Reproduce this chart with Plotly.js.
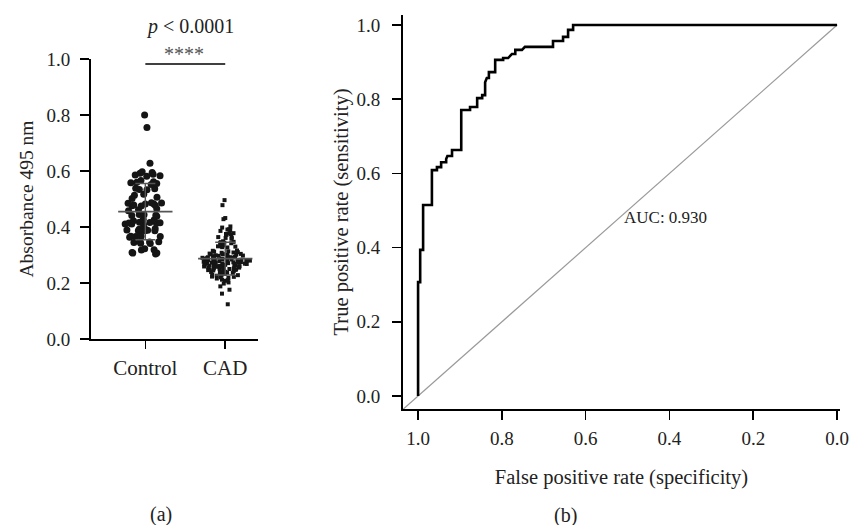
<!DOCTYPE html>
<html><head><meta charset="utf-8">
<script src="https://cdn.plot.ly/plotly-3.0.1.min.js"></script>
<style>html,body{margin:0;padding:0;background:#fff}#chart{width:850px;height:525px}</style>
</head><body><div id="chart"></div>
<script>
// ---- Panel (a): absorbance at 495 nm ----
const groupLabels = ['Control', 'CAD'];
const groupPos = [0, 1];
const controlValues = [0.800, 0.755, 0.628,
  0.597, 0.588, 0.592, 0.583, 0.586, 0.595, 0.581,
  0.562, 0.555, 0.566, 0.558, 0.552, 0.560,
  0.537, 0.533, 0.538, 0.534,
  0.517, 0.513,
  0.506, 0.502,
  0.487, 0.482, 0.478, 0.475, 0.476, 0.479, 0.483, 0.486, 0.485,
  0.462, 0.458, 0.465,
  0.442, 0.438, 0.441, 0.445, 0.444,
  0.426, 0.422, 0.427,
  0.413, 0.408, 0.411, 0.414, 0.416, 0.417, 0.415, 0.411,
  0.389, 0.387, 0.392, 0.387, 0.394, 0.388, 0.388, 0.387, 0.392,
  0.367, 0.363, 0.367, 0.366, 0.366,
  0.347, 0.346, 0.347, 0.342, 0.341, 0.345,
  0.322, 0.318, 0.319,
  0.304, 0.307, 0.307, 0.309];
const cadValues = [0.496, 0.478, 0.432, 0.428,
  0.402, 0.398,
  0.392, 0.389, 0.386, 0.391,
  0.377, 0.374, 0.372, 0.378, 0.375,
  0.362, 0.358, 0.361, 0.364,
  0.347, 0.344, 0.349, 0.342, 0.346, 0.343,
  0.332, 0.328, 0.331, 0.334, 0.327, 0.330,
  0.315, 0.312, 0.309, 0.311, 0.316, 0.308, 0.313, 0.310,
  0.302, 0.299, 0.304, 0.297, 0.301, 0.298, 0.303, 0.300, 0.296, 0.305,
  0.292, 0.288, 0.291, 0.286, 0.293, 0.289, 0.290, 0.287, 0.294, 0.285, 0.291, 0.288, 0.292,
  0.282, 0.278, 0.280, 0.276, 0.283, 0.279, 0.281, 0.277, 0.284, 0.275, 0.280, 0.278, 0.282, 0.279,
  0.272, 0.268, 0.270, 0.266, 0.273, 0.269, 0.271, 0.267, 0.274, 0.265, 0.270, 0.268, 0.272, 0.269,
  0.262, 0.258, 0.260, 0.256, 0.263, 0.259, 0.261, 0.257, 0.264, 0.255, 0.260, 0.258,
  0.252, 0.248, 0.250, 0.246, 0.253, 0.249, 0.251, 0.247, 0.254, 0.245,
  0.242, 0.238, 0.240, 0.236, 0.243, 0.239, 0.241, 0.237,
  0.232, 0.228, 0.230, 0.226, 0.233, 0.229,
  0.222, 0.218, 0.220, 0.216, 0.223,
  0.212, 0.208, 0.210,
  0.202, 0.198,
  0.188, 0.176, 0.162, 0.124];
const yTicksA = [0, 0.2, 0.4, 0.6, 0.8, 1.0];
const pText = '<i>p</i> &lt; 0.0001';
const starText = '****';

// ---- Panel (b): ROC curve ----
const rocSpecificity = [1.0, 1.0, 0.995, 0.995, 0.988, 0.988, 0.967, 0.967, 0.955, 0.955, 0.945, 0.945,
  0.933, 0.933, 0.930, 0.919, 0.919, 0.897, 0.897, 0.876, 0.876, 0.859, 0.859, 0.847, 0.847,
  0.840, 0.840, 0.836, 0.831, 0.831, 0.816, 0.816, 0.797, 0.797, 0.785, 0.776, 0.768, 0.768,
  0.752, 0.745, 0.678, 0.678, 0.654, 0.654, 0.642, 0.642, 0.630, 0.630, 0.0];
const rocSensitivity = [0.0, 0.307, 0.307, 0.394, 0.394, 0.515, 0.515, 0.609, 0.609, 0.617, 0.617, 0.630,
  0.630, 0.639, 0.647, 0.647, 0.663, 0.663, 0.771, 0.771, 0.779, 0.779, 0.803, 0.803, 0.811,
  0.811, 0.846, 0.857, 0.857, 0.873, 0.873, 0.906, 0.906, 0.911, 0.911, 0.922, 0.922, 0.933,
  0.933, 0.941, 0.941, 0.957, 0.957, 0.968, 0.968, 0.987, 0.987, 1.0, 1.0];
const chanceX = [1.04, 0.0];
const chanceY = [-0.04, 1.0];
const xTicksB = [1.0, 0.8, 0.6, 0.4, 0.2, 0.0];
const yTicksB = [0.0, 0.2, 0.4, 0.6, 0.8, 1.0];
const aucText = 'AUC: 0.930';
const aucPos = [0.41, 0.482];

const FONT = '"Liberation Serif", "DejaVu Serif", serif';

function mean(a) { return a.reduce((s, v) => s + v, 0) / a.length; }
function sd(a) { const m = mean(a); return Math.sqrt(a.reduce((s, v) => s + (v - m) * (v - m), 0) / (a.length - 1)); }

const groups = [controlValues, cadValues];
const markerStyles = [
  {color: '#151515', size: 7, symbol: 'circle'},
  {color: '#151515', size: 4, symbol: 'square'}
];

const traces = [];
groups.forEach((vals, i) => {
  traces.push({
    type: 'box', y: vals, x0: groupPos[i], name: groupLabels[i],
    boxpoints: 'all', jitter: 1, pointpos: 0, width: 0.62,
    line: {width: 0, color: 'rgba(0,0,0,0)'}, fillcolor: 'rgba(0,0,0,0)',
    marker: markerStyles[i], hoveron: 'points', showlegend: false,
    xaxis: 'x', yaxis: 'y'
  });
});
groups.forEach((vals, i) => {
  const m = mean(vals), s = sd(vals);
  traces.push({
    type: 'scatter', mode: 'lines', x: [groupPos[i] - 0.34, groupPos[i] + 0.34], y: [m, m],
    line: {color: '#555', width: 1.6}, showlegend: false, hoverinfo: 'skip', xaxis: 'x', yaxis: 'y'
  });
  traces.push({
    type: 'scatter', mode: 'markers', x: [groupPos[i]], y: [m],
    marker: {size: 1, color: 'rgba(0,0,0,0)'},
    error_y: {type: 'data', array: [s], visible: true, color: '#555', thickness: 1.4, width: 10},
    showlegend: false, hoverinfo: 'skip', xaxis: 'x', yaxis: 'y'
  });
});

traces.push({
  type: 'scatter', mode: 'lines', x: chanceX, y: chanceY,
  line: {color: '#9a9a9a', width: 1.2}, showlegend: false, hoverinfo: 'skip',
  xaxis: 'x2', yaxis: 'y2'
});
traces.push({
  type: 'scatter', mode: 'lines', x: rocSpecificity, y: rocSensitivity,
  line: {color: '#000', width: 2.6}, showlegend: false,
  xaxis: 'x2', yaxis: 'y2'
});

const axisCommon = {
  showgrid: false, zeroline: false, showline: true, linecolor: '#000', linewidth: 2,
  ticks: 'outside', tickcolor: '#000', tickwidth: 1.6, ticklen: 9,
  tickfont: {family: FONT, size: 19, color: '#222'}
};

const layout = {
  width: 850, height: 525,
  margin: {l: 0, r: 0, t: 0, b: 0},
  paper_bgcolor: '#fff', plot_bgcolor: '#fff',
  font: {family: FONT, color: '#222'},
  showlegend: false,
  xaxis: Object.assign({}, axisCommon, {
    domain: [91 / 850, 258 / 850], range: [-0.68, 1.41],
    tickvals: groupPos, ticktext: groupLabels, anchor: 'y', ticklen: 8, ticklabelstandoff: 1,
    tickfont: {family: FONT, size: 21, color: '#222'}
  }),
  yaxis: Object.assign({}, axisCommon, {
    domain: [1 - 339 / 525, 1 - 59 / 525], range: [0, 1.0],
    tickvals: yTicksA, tickformat: '.1f', anchor: 'x', ticklabelstandoff: 6,
    title: {text: 'Absorbance 495 nm', font: {family: FONT, size: 19.5, color: '#222'}, standoff: 8}
  }),
  xaxis2: Object.assign({}, axisCommon, {
    domain: [403 / 850, 840 / 850], range: [1.036, -0.007],
    tickvals: xTicksB, tickformat: '.1f', anchor: 'y2', ticklabelstandoff: 2,
    title: {text: 'False positive rate (specificity)', font: {family: FONT, size: 20.5, color: '#222'}, standoff: 22}
  }),
  yaxis2: Object.assign({}, axisCommon, {
    domain: [1 - 409 / 525, 1 - 15 / 525], range: [-0.035, 1.027],
    tickvals: yTicksB, tickformat: '.1f', anchor: 'x2', ticklabelstandoff: 8,
    title: {text: 'True positive rate (sensitivity)', font: {family: FONT, size: 20.5, color: '#222'}, standoff: 2}
  }),
  shapes: [
    {type: 'line', xref: 'x', yref: 'y', x0: groupPos[0], x1: groupPos[1], y0: 0.982, y1: 0.982,
     line: {color: '#000', width: 1.5}}
  ],
  annotations: [
    {xref: 'x', yref: 'paper', x: 0.555, y: 1 - 27 / 525, yanchor: 'middle', text: pText, showarrow: false,
     font: {family: FONT, size: 20, color: '#222'}},
    {xref: 'x', yref: 'paper', x: 0.48, y: 1 - 54 / 525, yanchor: 'middle', text: starText, showarrow: false,
     font: {family: FONT, size: 20, color: '#555'}},
    {xref: 'x2', yref: 'y2', x: aucPos[0], y: aucPos[1], text: aucText, showarrow: false,
     font: {family: FONT, size: 17, color: '#222'}},
    {xref: 'paper', yref: 'paper', x: 148 / 850, y: 1 - 514 / 525, yanchor: 'middle', text: '(a)', showarrow: false,
     font: {family: FONT, size: 20, color: '#222'}},
    {xref: 'paper', yref: 'paper', x: 579 / 850, y: 1 - 515 / 525, yanchor: 'middle', text: '(b)', showarrow: false,
     font: {family: FONT, size: 20, color: '#222'}}
  ]
};

Plotly.newPlot('chart', traces, layout, {displayModeBar: false, staticPlot: true});
</script>
</body></html>
